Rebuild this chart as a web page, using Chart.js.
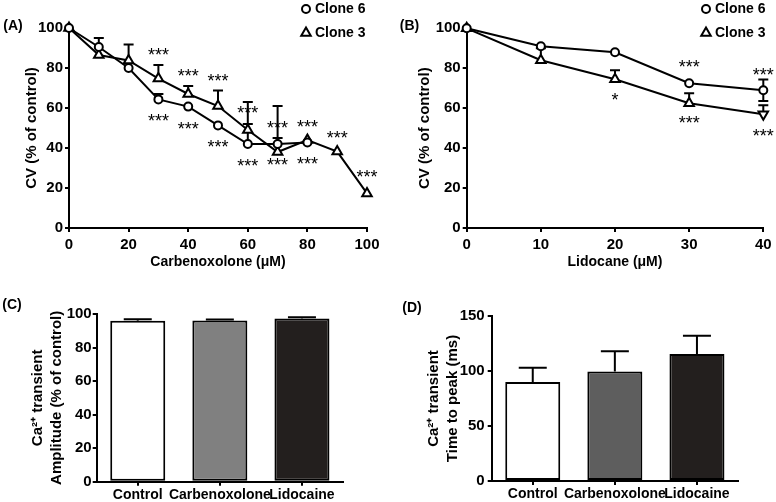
<!DOCTYPE html>
<html><head><meta charset="utf-8">
<script src="https://cdn.jsdelivr.net/npm/chart.js@4.4.1/dist/chart.umd.min.js"></script>
<style>
html,body{margin:0;padding:0;background:#fff;}
body{width:776px;height:502px;position:relative;overflow:hidden;}
.p{position:absolute;}
</style></head><body>
<div class="p" style="left:0;top:0"><canvas id="cA" width="390" height="290"></canvas></div>
<div class="p" style="left:390px;top:0"><canvas id="cB" width="386" height="290"></canvas></div>
<div class="p" style="left:0;top:290px"><canvas id="cC" width="390" height="212"></canvas></div>
<div class="p" style="left:390px;top:290px"><canvas id="cD" width="386" height="212"></canvas></div>
<script>
// ---------- DATA ----------
// Panel A: Carbenoxolone dose-response
const doseA      = [0, 10, 20, 30, 40, 50, 60, 70, 80, 90, 100];
const clone6A    = [100, 90.5, 80, 64.3, 60.7, 51.3, 42, 42, 42.8, null, null];
const clone6A_up = [0, 4.5, 0, 2.7, 0, 0, 21, 19, 0, null, null];
const clone3A    = [100, 86.5, 83.8, 74.7, 67, 61, 49, 38, 44, 38.2, 17.3];
const clone3A_up = [0, 0, 8, 6.8, 4, 7.7, 3, 7, 0, 0, 0];
const starsA_upX = [30, 40, 50, 60, 70, 80, 90, 100];
const starsA_upY = [87.8, 77.7, 75.2, 59, 51.5, 51.8, 46.5, 26.8];
const starsA_loX = [30, 40, 50, 60, 70, 80];
const starsA_loY = [54.8, 51, 41.8, 32.3, 32.8, 33.5];

// Panel B: Lidocane dose-response
const doseB      = [0, 10, 20, 30, 40];
const clone6B    = [100, 91, 88, 72.5, 69];
const clone6B_up = [0, 0, 0, 0, 5.4];
const clone6B_dn = [0, 0, 0, 0, 5.4];
const clone3B    = [100, 84, 74.5, 62.5, 57];
const clone3B_up = [0, 6, 4.5, 5, 4.5];
const starsB_X   = [20, 30, 30, 40, 40];
const starsB_Y   = [65.7, 82, 54, 78.2, 47.8];
const starsB_T   = ['*', '***', '***', '***', '***'];

// Panels C & D: Ca2+ transients
const groups      = ['Control', 'Carbenoxolone', 'Lidocaine'];
const amplitude   = [96, 96.1, 97.3];
const amplitudeErr= [0.8, 0.6, 0.8];
const ttp         = [90, 99.5, 115.5];
const ttpErr      = [13, 18.5, 16.5];

// ticks
const ticksA_x = [0, 20, 40, 60, 80, 100];
const ticksB_x = [0, 10, 20, 30, 40];
const ticksPct = [0, 20, 40, 60, 80, 100];
const ticksTtp = [0, 50, 100, 150];

// ---------- STYLE ----------
const FONT = "'Liberation Sans', Arial, Helvetica, sans-serif";
Chart.defaults.font.family = FONT;
Chart.defaults.font.size = 14;
Chart.defaults.font.weight = 'bold';
Chart.defaults.color = '#000';
Chart.defaults.animation = false;

function pts(xs, ys){ const o=[]; xs.forEach((x,i)=>{ if(ys[i]!==null && ys[i]!==undefined) o.push({x:x,y:ys[i]}); }); return o; }

function marker(ctx, style, x, y, r, rot){
  ctx.save(); ctx.lineWidth = 2; ctx.strokeStyle = '#000'; ctx.fillStyle = '#fff';
  ctx.beginPath();
  if (style === 'circle') { ctx.arc(x, y, r, 0, Math.PI*2); }
  else {
    let a = (rot||0)*Math.PI/180;
    ctx.moveTo(x + Math.sin(a)*r, y - Math.cos(a)*r);
    a += 2*Math.PI/3; ctx.lineTo(x + Math.sin(a)*r, y - Math.cos(a)*r);
    a += 2*Math.PI/3; ctx.lineTo(x + Math.sin(a)*r, y - Math.cos(a)*r);
    ctx.closePath();
  }
  ctx.fill(); ctx.stroke(); ctx.restore();
}

const extras = {
  id: 'extras',
  beforeDatasetsDraw(chart){
    const ctx = chart.ctx, ys = chart.scales.y;
    chart.data.datasets.forEach((ds, i) => {
      const meta = chart.getDatasetMeta(i);
      const cap = ds.capHalf || 5;
      meta.data.forEach((el, j) => {
        const v = meta.controller.getParsed(j).y;
        ctx.save(); ctx.strokeStyle = '#000'; ctx.lineWidth = 2;
        const up = ds.errUp ? ds.errUp[j] : 0, dn = ds.errDown ? ds.errDown[j] : 0;
        if (up) { const yp = ys.getPixelForValue(v+up);
          ctx.beginPath(); ctx.moveTo(el.x, el.y); ctx.lineTo(el.x, yp);
          ctx.moveTo(el.x-cap, yp); ctx.lineTo(el.x+cap, yp); ctx.stroke(); }
        if (dn) { const yp = ys.getPixelForValue(v-dn);
          ctx.beginPath(); ctx.moveTo(el.x, el.y); ctx.lineTo(el.x, yp);
          ctx.moveTo(el.x-cap, yp); ctx.lineTo(el.x+cap, yp); ctx.stroke(); }
        ctx.restore();
      });
    });
  },
  afterDraw(chart){
    const o = chart.options.plugins.extras || {}, ctx = chart.ctx;
    ctx.save();
    if (o.label) {
      ctx.font = 'bold 14px ' + FONT; ctx.fillStyle = '#000';
      ctx.textAlign = 'center'; ctx.textBaseline = 'middle';
      ctx.fillText(o.label.text, o.label.x, o.label.y);
    }
    if (o.legend) {
      const L = o.legend;
      L.items.forEach((it, k) => {
        const yy = L.y + k*L.gap;
        marker(ctx, it.style, L.x, yy, it.r, 0);
        ctx.font = 'bold 14px ' + FONT; ctx.fillStyle = '#000';
        ctx.textAlign = 'left'; ctx.textBaseline = 'middle';
        ctx.fillText(it.text, L.x + 9, yy + 0.5);
      });
    }
    if (o.stars) {
      const xs = chart.scales.x, ys = chart.scales.y;
      ctx.font = 'normal 18px ' + FONT; ctx.fillStyle = '#000';
      ctx.textAlign = 'center'; ctx.textBaseline = 'middle';
      o.stars.forEach(s => {
        s.x.forEach((x, k) => {
          const t = s.text ? s.text[k] : '***';
          ctx.fillText(t, xs.getPixelForValue(x), ys.getPixelForValue(s.y[k]) + 4);
        });
      });
    }
    ctx.restore();
  }
};

function axisCommon(){
  return {
    border: {display:true, color:'#000', width:2},
    grid: {drawOnChartArea:false, color:'#000', lineWidth:2, tickLength:4, tickWidth:2, tickColor:'#000'},
  };
}

function lineChart(id, cfg){
  const xAx = axisCommon(), yAx = axisCommon();
  Object.assign(xAx, {type:'linear', min:cfg.xmin, max:cfg.xmax,
    afterBuildTicks: s => { s.ticks = cfg.xticks.map(v => ({value:v})); },
    ticks:{padding:4, font:{size:15, weight:'bold'}, maxRotation:0, autoSkip:false},
    title:{display:true, text:cfg.xtitle, font:{size:14, weight:'bold'}, padding:{top:0, bottom:19}},
    afterFit: s => { s.height = cfg.xh; }});
  Object.assign(yAx, {type:'linear', min:0, max:100,
    afterBuildTicks: s => { s.ticks = ticksPct.map(v => ({value:v})); },
    ticks:{padding:2, font:{size:15, weight:'bold'}},
    title:{display:true, text:'CV (% of control)', font:{size:15, weight:'bold'}, padding:{top:cfg.ytp, bottom:0}},
    afterFit: s => { s.width = cfg.yw; }});
  return new Chart(document.getElementById(id), {
    type:'line',
    data:{datasets:[
      {label:'Clone 6', data:pts(cfg.dose, cfg.c6), errUp:cfg.c6up, errDown:cfg.c6dn,
       borderColor:'#000', borderWidth:2, pointStyle:'circle', pointRadius:4, pointBorderWidth:2,
       pointBackgroundColor:'#fff', pointBorderColor:'#000', tension:0, clip:false},
      {label:'Clone 3', data:pts(cfg.dose, cfg.c3), errUp:cfg.c3up,
       borderColor:'#000', borderWidth:2, pointStyle:'triangle', pointRadius:5.5, pointBorderWidth:2,
       pointRotation: cfg.c3rot || 0,
       pointBackgroundColor:'#fff', pointBorderColor:'#000', tension:0, clip:false}
    ]},
    options:{
      responsive:false, devicePixelRatio:1, animation:false,
      layout:{autoPadding:false, padding:{left:0, top:cfg.top, right:cfg.right, bottom:0}},
      plugins:{legend:{display:false}, tooltip:{enabled:false},
        extras:{label:cfg.label, legend:cfg.legend, stars:cfg.stars}},
      scales:{x:xAx, y:yAx}
    },
    plugins:[extras]
  });
}

lineChart('cA', {
  dose:doseA, c6:clone6A, c6up:clone6A_up, c3:clone3A, c3up:clone3A_up,
  xmin:0, xmax:100, xticks:ticksA_x, xtitle:'Carbenoxolone (\u03bcM)',
  top:28, right:23, yw:69, xh:62, ytp:22.7,
  label:{text:'(A)', x:13, y:26},
  legend:{x:306, y:9, gap:24, items:[{style:'circle', r:4, text:'Clone 6'},{style:'triangle', r:5.5, text:'Clone 3'}]},
  stars:[{x:starsA_upX, y:starsA_upY},{x:starsA_loX, y:starsA_loY}]
});

lineChart('cB', {
  dose:doseB, c6:clone6B, c6up:clone6B_up, c6dn:clone6B_dn, c3:clone3B, c3up:clone3B_up,
  c3rot:[0,0,0,0,180],
  xmin:0, xmax:40, xticks:ticksB_x, xtitle:'Lidocane (\u03bcM)',
  top:28.3, right:12.7, yw:76.7, xh:62, ytp:25.5,
  label:{text:'(B)', x:19.5, y:26},
  legend:{x:316, y:9, gap:24, items:[{style:'circle', r:4, text:'Clone 6'},{style:'triangle', r:5.5, text:'Clone 3'}]},
  stars:[{x:starsB_X, y:starsB_Y, text:starsB_T}]
});

function barChart(id, cfg){
  const xAx = axisCommon(), yAx = axisCommon();
  xAx.grid.offset = false;
  Object.assign(xAx, {type:'category',
    ticks:{padding:1, font:{size:14, weight:'bold'}, maxRotation:0, autoSkip:false},
    afterFit: s => { s.height = cfg.xh; }});
  Object.assign(yAx, {type:'linear', min:0, max:cfg.ymax,
    afterBuildTicks: s => { s.ticks = cfg.yticks.map(v => ({value:v})); },
    ticks:{padding:cfg.ypad, font:{size:15, weight:'bold'}},
    title:{display:true, text:cfg.ytitle, font:{size:15, weight:'bold', lineHeight:1.267}, padding:{top:cfg.ytp, bottom:0}},
    afterFit: s => { s.width = cfg.yw; }});
  return new Chart(document.getElementById(id), {
    type:'bar',
    data:{labels:groups, datasets:[{data:cfg.values, errUp:cfg.err, capHalf:14,
      backgroundColor:cfg.colors, borderColor:'#000', borderWidth:2, borderSkipped:false,
      categoryPercentage:1, barPercentage:0.67}]},
    options:{
      responsive:false, devicePixelRatio:1, animation:false,
      layout:{autoPadding:false, padding:{left:0, top:cfg.top, right:cfg.right, bottom:0}},
      plugins:{legend:{display:false}, tooltip:{enabled:false}, extras:{label:cfg.label}},
      scales:{x:xAx, y:yAx}
    },
    plugins:[extras]
  });
}

barChart('cC', {
  values:amplitude, err:amplitudeErr, ymax:100, yticks:ticksPct,
  ytitle:['Ca\u00b2\u207a transient', 'Amplitude (% of control)'],
  colors:['#ffffff', '#808080', '#231f1e'],
  top:24, right:47, yw:96.7, xh:20.3, ytp:28, ypad:1,
  label:{text:'(C)', x:12, y:15}
});

barChart('cD', {
  values:ttp, err:ttpErr, ymax:150, yticks:ticksTtp,
  ytitle:['Ca\u00b2\u207a transient', 'Time to peak (ms)'],
  colors:['#ffffff', '#5e5e5e', '#231f1e'],
  top:26, right:38, yw:101.7, xh:21, ytp:34.5, ypad:3,
  label:{text:'(D)', x:22, y:18}
});
</script>
</body></html>
